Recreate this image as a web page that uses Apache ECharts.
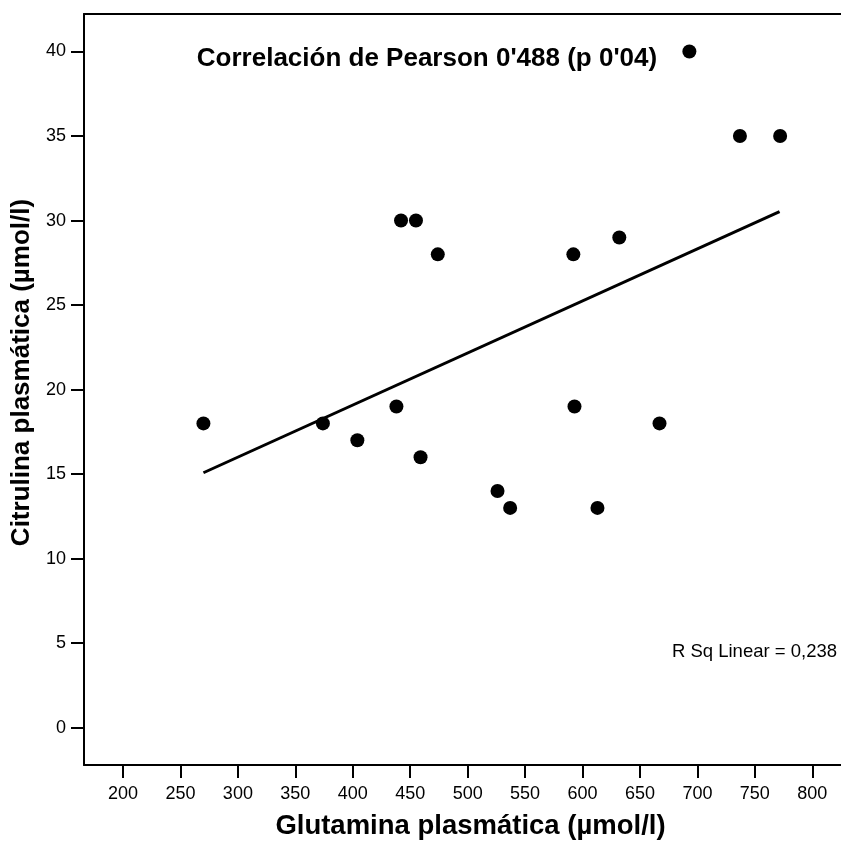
<!DOCTYPE html>
<html>
<head>
<meta charset="utf-8">
<script src="https://cdn.jsdelivr.net/npm/echarts@6/dist/echarts.min.js"></script>
<style>
  html, body { margin: 0; padding: 0; background: #ffffff; }
  #chart { width: 841px; height: 845px; }
</style>
</head>
<body>
<div id="chart"></div>
<script>
// ---- Data ----
const glutamina = [270, 374, 404, 438, 459, 442, 455, 474, 526, 537, 593, 613, 667, 592, 632, 693, 737, 772];
const citrulina = [18, 18, 17, 19, 16, 30, 30, 28, 14, 13, 19, 13, 18, 28, 29, 40, 35, 35];
const fitX = [270, 771.5];
const fitY = [15.08, 30.53];
const xTicks = [200, 250, 300, 350, 400, 450, 500, 550, 600, 650, 700, 750, 800];
const yTicks = [0, 5, 10, 15, 20, 25, 30, 35, 40];
const titleText = "Correlación de Pearson 0'488 (p 0'04)";
const rsqText = "R Sq Linear = 0,238";
const xName = "Glutamina plasmática (µmol/l)";
const yName = "Citrulina plasmática (µmol/l)";

const FONT = '"Liberation Sans", Arial, Helvetica, sans-serif';

const points = glutamina.map((g, i) => [g, citrulina[i]]);
const fitLine = fitX.map((x, i) => [x, fitY[i]]);

const X_MIN = 166.05, X_MAX = 824.98;

const chart = echarts.init(document.getElementById('chart'), null, { renderer: 'canvas' });
chart.setOption({
  backgroundColor: '#ffffff',
  animation: false,
  grid: {
    left: 84, top: 14, right: 0, bottom: 76,
    show: false
  },
  xAxis: [
    {
      type: 'value',
      min: X_MIN, max: X_MAX,
      name: xName,
      nameLocation: 'middle',
      nameGap: 47,
      nameTextStyle: { fontFamily: FONT, fontSize: 27.5, fontWeight: 'bold', color: '#000', padding: [0, 0, 0, 16] },
      splitLine: { show: false },
      axisLine: { show: true, onZero: false, lineStyle: { color: '#000', width: 2 } },
      axisTick: { show: true, length: 13, lineStyle: { color: '#000', width: 2 }, customValues: xTicks },
      axisLabel: { fontFamily: FONT, fontSize: 18, color: '#000', margin: 20, customValues: xTicks }
    },
    {
      type: 'value',
      position: 'top',
      min: X_MIN, max: X_MAX,
      splitLine: { show: false },
      axisLine: { show: true, onZero: false, lineStyle: { color: '#000', width: 2 } },
      axisTick: { show: false },
      axisLabel: { show: false }
    }
  ],
  yAxis: {
    type: 'value',
    min: -2.21, max: 42.22,
    name: yName,
    nameLocation: 'middle',
    nameGap: 41,
    nameTextStyle: { fontFamily: FONT, fontSize: 26, fontWeight: 'bold', color: '#000', padding: [0, 0, 0, 34] },
    splitLine: { show: false },
    axisLine: { show: true, onZero: false, lineStyle: { color: '#000', width: 2 } },
    axisTick: { show: true, length: 13, lineStyle: { color: '#000', width: 2 }, customValues: yTicks },
    axisLabel: { fontFamily: FONT, fontSize: 18, color: '#000', margin: 18, customValues: yTicks }
  },
  series: [
    {
      type: 'line',
      data: fitLine,
      showSymbol: false,
      symbol: 'none',
      lineStyle: { color: '#000', width: 3 },
      z: 2
    },
    {
      type: 'scatter',
      data: points,
      symbol: 'circle',
      symbolSize: 14,
      itemStyle: { color: '#000', opacity: 1 },
      z: 3
    }
  ],
  graphic: [
    {
      type: 'text',
      x: 427, y: 58.5,
      style: {
        text: titleText,
        font: 'bold 26px ' + FONT,
        fill: '#000',
        align: 'center',
        verticalAlign: 'middle'
      }
    },
    {
      type: 'text',
      x: 837, y: 652,
      style: {
        text: rsqText,
        font: '18.5px ' + FONT,
        fill: '#000',
        align: 'right',
        verticalAlign: 'middle'
      }
    }
  ]
});
</script>
</body>
</html>
